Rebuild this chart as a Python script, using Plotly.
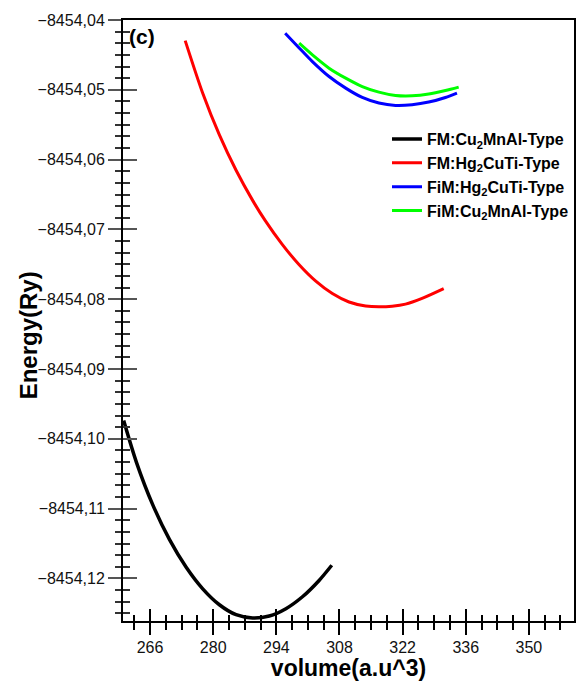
import plotly.graph_objects as go

# ---- data ----
black_x = [260.15, 262.96, 266.63, 270.32, 274.01, 277.68, 281.37, 285.07, 288.74, 292.43, 296.12,
           299.79, 303.48, 306.29]
black_y = [-8454.09739, -8454.10333, -8454.10950, -8454.11444, -8454.11840, -8454.12149, -8454.12377,
           -8454.12520, -8454.12567, -8454.12539, -8454.12434, -8454.12263, -8454.12029, -8454.11811]

red_x = [273.79, 277.68, 281.37, 285.07, 288.74, 291.54, 295.30, 299.06, 302.75, 306.42, 310.11,
         313.80, 316.74, 319.68, 322.64, 326.31, 331.11]
red_y = [-8454.04296, -8454.05050, -8454.05647, -8454.06153, -8454.06584, -8454.06874, -8454.07214,
         -8454.07506, -8454.07741, -8454.07919, -8454.08040, -8454.08097, -8454.08109, -8454.08100,
         -8454.08070, -8454.07987, -8454.07847]

blue_x = [295.96, 299.06, 302.00, 305.69, 309.38, 313.05, 316.74, 320.43, 324.10, 327.79, 331.49, 334.05]
blue_y = [-8454.04190, -8454.04400, -8454.04596, -8454.04810, -8454.04976, -8454.05110, -8454.05190,
          -8454.05224, -8454.05214, -8454.05176, -8454.05110, -8454.05047]

green_x = [299.06, 302.00, 305.69, 309.38, 313.05, 316.74, 320.43, 324.10, 327.79, 331.49, 334.43]
green_y = [-8454.04333, -8454.04500, -8454.04690, -8454.04833, -8454.04953, -8454.05033, -8454.05081,
           -8454.05086, -8454.05061, -8454.05010, -8454.04961]

series_names = ["FM:Cu<sub>2</sub>MnAl-Type", "FM:Hg<sub>2</sub>CuTi-Type",
                "FiM:Hg<sub>2</sub>CuTi-Type", "FiM:Cu<sub>2</sub>MnAl-Type"]
series_colors = ["#000000", "#ff0000", "#0000ff", "#00ff00"]

x_range = [260, 360]
y_range = [-8454.1261, -8454.04]

FONT = "Liberation Sans, Arial, sans-serif"

fig = go.Figure()
for xs, ys, name, col, w in [
    (black_x, black_y, series_names[0], series_colors[0], 3.5),
    (red_x, red_y, series_names[1], series_colors[1], 3),
    (blue_x, blue_y, series_names[2], series_colors[2], 3),
    (green_x, green_y, series_names[3], series_colors[3], 3),
]:
    fig.add_trace(go.Scatter(x=xs, y=ys, mode="lines", name=name,
                             line=dict(color=col, width=w, shape="spline", smoothing=0.8)))

# empty helpers so the inward-tick overlay axes are drawn
fig.add_trace(go.Scatter(x=[], y=[], xaxis="x2", yaxis="y", showlegend=False, hoverinfo="skip"))
fig.add_trace(go.Scatter(x=[], y=[], xaxis="x", yaxis="y2", showlegend=False, hoverinfo="skip"))

fig.update_layout(
    width=577, height=681,
    margin=dict(l=123, r=1, t=20, b=58),
    paper_bgcolor="white", plot_bgcolor="white",
    separators=",.",
    font=dict(family=FONT, color="#111111", size=16),
    showlegend=True,
    legend=dict(x=1.0, xanchor="right", y=0.83, yanchor="top",
                bgcolor="rgba(0,0,0,0)", borderwidth=0,
                font=dict(family=FONT, size=16, color="#000000", weight="bold"),
                tracegroupgap=0),
    xaxis=dict(range=x_range, showline=True, linecolor="black", linewidth=2, mirror=True,
               showgrid=False, zeroline=False,
               ticks="outside", ticklen=12, tickwidth=2, tickcolor="black",
               tick0=266, dtick=14, ticklabelstandoff=-1,
               minor=dict(ticks="outside", ticklen=7, tickwidth=1.5, tickcolor="black",
                          tick0=266, dtick=3.5, showgrid=False),
               tickfont=dict(family=FONT, size=16, color="#111111"),
               title=dict(text="volume(a.u^3)", standoff=8,
                          font=dict(family=FONT, size=23, color="black", weight="bold"))),
    xaxis2=dict(range=x_range, overlaying="x", anchor="y", side="bottom",
                showline=False, showgrid=False, zeroline=False, showticklabels=False,
                ticks="inside", ticklen=12, tickwidth=2, tickcolor="black",
                tick0=266, dtick=14,
                minor=dict(ticks="inside", ticklen=6, tickwidth=1.5, tickcolor="black",
                           tick0=266, dtick=3.5, showgrid=False)),
    yaxis=dict(range=y_range, showline=True, linecolor="black", linewidth=2, mirror=True,
               showgrid=False, zeroline=False,
               ticks="outside", ticklen=13, tickwidth=1.5, tickcolor="#555555",
               tick0=-8454.04, dtick=0.01, tickformat=".2f",
               minor=dict(ticks="outside", ticklen=6, tickwidth=1.5, tickcolor="#333333",
                          tick0=-8454.04, dtick=0.01 / 6, showgrid=False),
               tickfont=dict(family=FONT, size=16, color="#111111")),
    yaxis2=dict(range=y_range, overlaying="y", anchor="x", side="left",
                showline=False, showgrid=False, zeroline=False, showticklabels=False,
                ticks="inside", ticklen=14, tickwidth=1.5, tickcolor="#555555",
                tick0=-8454.04, dtick=0.01,
                minor=dict(ticks="inside", ticklen=7, tickwidth=1.5, tickcolor="#333333",
                           tick0=-8454.04, dtick=0.01 / 6, showgrid=False)),
    annotations=[
        dict(text="(c)", xref="paper", yref="paper", x=0.008, y=0.973,
             xanchor="left", yanchor="middle", showarrow=False,
             font=dict(family=FONT, size=21, color="black", weight="bold")),
        dict(text="Energy(Ry)", xref="paper", yref="paper", x=-0.2097, y=0.476,
             xanchor="center", yanchor="middle", showarrow=False, textangle=-90,
             font=dict(family=FONT, size=24, color="black", weight="bold")),
    ],
)

fig.write_html("out.html")
